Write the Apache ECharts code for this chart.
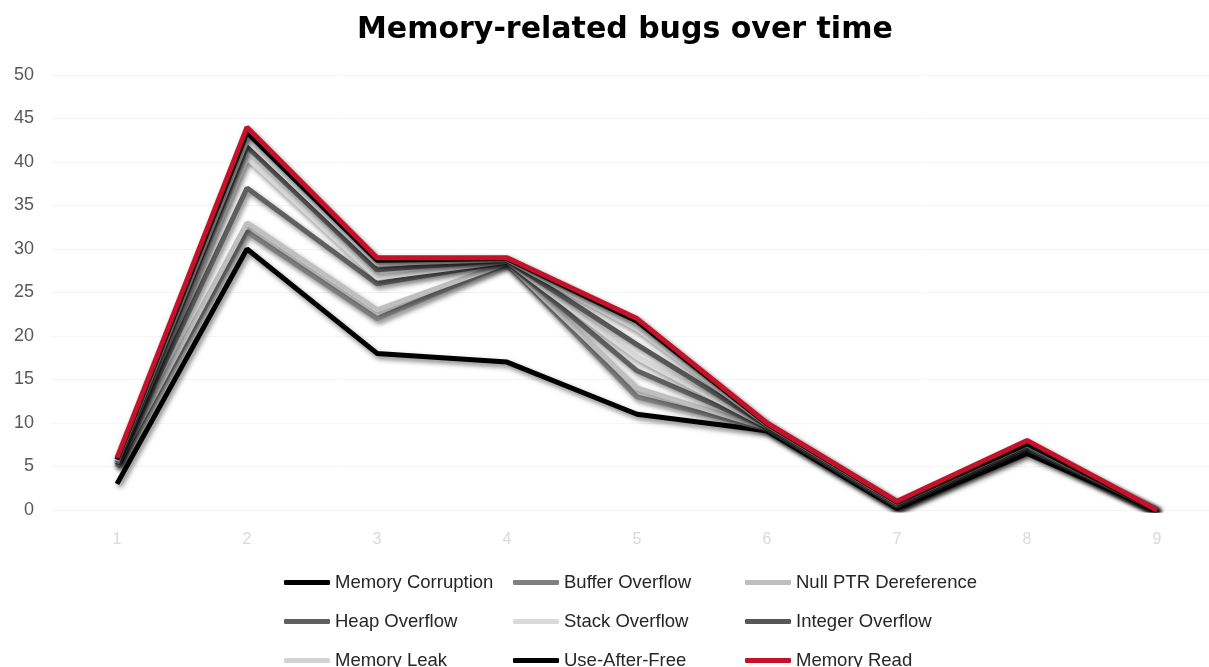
<!DOCTYPE html>
<html>
<head>
<meta charset="utf-8">
<script src="https://cdn.jsdelivr.net/npm/echarts@6/dist/echarts.min.js"></script>
<style>html,body{margin:0;padding:0;background:#fff;}#c{width:1209px;height:667px;}</style>
</head>
<body>
<div id="c"></div>
<script>
const categories = ['1','2','3','4','5','6','7','8','9'];
const yTicks = { min: 0, max: 50, interval: 5 };

const memoryCorruption = [3, 30, 18, 17, 11, 9.1, 0.2, 6.5, 0];
const bufferOverflow   = [5, 32, 22, 28.3, 13, 9.3, 0.4, 7.0, 0];
const nullPtrDeref     = [5.1, 33, 23, 28.4, 14, 9.4, 0.5, 7.1, 0];
const heapOverflow     = [5.2, 37, 26, 28.5, 16, 9.5, 0.6, 7.2, 0];
const stackOverflow    = [5.4, 40.5, 26.7, 28.6, 17.5, 9.6, 0.6, 7.3, 0];
const integerOverflow  = [5.5, 41.8, 27.6, 28.7, 19, 9.7, 0.7, 7.4, 0];
const memoryLeak       = [5.6, 42.5, 28.3, 28.8, 20.8, 9.8, 0.8, 7.5, 0];
const useAfterFree     = [5.8, 43.4, 28.7, 28.9, 21.7, 9.9, 0.9, 7.6, 0];
const memoryRead       = [6, 44, 29, 29, 22, 10, 1, 8, 0];

const seriesDefs = [
  ['Memory Corruption', memoryCorruption, '#000000'],
  ['Buffer Overflow', bufferOverflow, '#808080'],
  ['Null PTR Dereference', nullPtrDeref, '#bfbfbf'],
  ['Heap Overflow', heapOverflow, '#606060'],
  ['Stack Overflow', stackOverflow, '#d9d9d9'],
  ['Integer Overflow', integerOverflow, '#575757'],
  ['Memory Leak', memoryLeak, '#d4d4d4'],
  ['Use-After-Free', useAfterFree, '#000000'],
  ['Memory Read', memoryRead, '#c5112a']
];

const chart = echarts.init(document.getElementById('c'), null, { renderer: 'canvas' });
const legendText = { fontFamily: 'Liberation Sans', fontSize: 18.5, color: '#262626', lineHeight: 18 };
function mkLegend(names, left) {
  return {
    orient: 'vertical', left: left, top: 573, height: 120, data: names, padding: 0,
    icon: 'roundRect', itemWidth: 46, itemHeight: 5, itemGap: 20,
    textStyle: legendText, selectedMode: false
  };
}
chart.setOption({
  animation: false,
  backgroundColor: '#ffffff',
  title: {
    text: 'Memory-related bugs over time', left: 352, top: 10,
    textStyle: { fontFamily: 'DejaVu Sans', fontWeight: 'bold', fontSize: 30, color: '#000' }
  },
  legend: [
    mkLegend(['Memory Corruption', 'Heap Overflow', 'Memory Leak'], 284),
    mkLegend(['Buffer Overflow', 'Stack Overflow', 'Use-After-Free'], 513),
    mkLegend(['Null PTR Dereference', 'Integer Overflow', 'Memory Read'], 745)
  ],
  grid: { left: 52, top: 75, width: 1170, height: 435, containLabel: false, outerBoundsMode: 'none' },
  xAxis: {
    type: 'category', data: categories, boundaryGap: true,
    axisLine: { show: true, lineStyle: { color: '#f4f4f4' } },
    axisTick: { show: false },
    axisLabel: { color: '#d9d9d9', fontFamily: 'Liberation Sans', fontSize: 16, margin: 22 }
  },
  yAxis: {
    type: 'value', min: yTicks.min, max: yTicks.max, interval: yTicks.interval,
    axisLine: { show: false }, axisTick: { show: false },
    splitLine: { lineStyle: { color: '#f4f4f4' } },
    axisLabel: { color: '#595959', fontFamily: 'Liberation Sans', fontSize: 18, margin: 18 }
  },
  series: seriesDefs.map(([name, data, color]) => ({
    name, type: 'line', data, color,
    symbol: 'none', showSymbol: false,
    lineStyle: { width: 5, color, shadowColor: 'rgba(0,0,0,0.5)', shadowBlur: 5, shadowOffsetX: 2, shadowOffsetY: 3 },
    itemStyle: { color }
  }))
});
</script>
</body>
</html>
